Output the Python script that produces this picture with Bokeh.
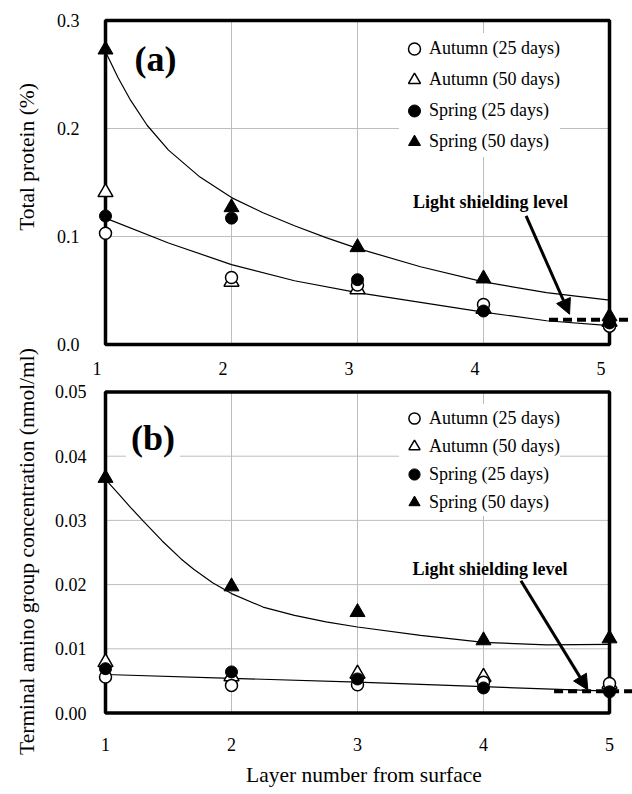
import math
from bokeh.plotting import figure
from bokeh.layouts import row, column
from bokeh.models import (Range1d, LinearAxis, FixedTicker, NumeralTickFormatter,
                          Legend, LegendItem, Label, Arrow, NormalHead)
from bokeh.embed import file_html
from bokeh.resources import INLINE

FONT = "Liberation Serif"

# ---------------- data ----------------
layers = [1, 2, 3, 4, 5]
x_ticks = [1, 2, 3, 4, 5]
series_labels = ["Autumn (25 days)", "Autumn (50 days)", "Spring (25 days)", "Spring (50 days)"]

# (a) Total protein (%)
a_y_ticks = [0.0, 0.1, 0.2, 0.3]
a_autumn25 = [0.103, 0.062, 0.055, 0.037, 0.017]
a_autumn50 = [0.141, 0.058, 0.051, 0.033, 0.021]
a_spring25 = [0.119, 0.117, 0.060, 0.031, 0.020]
a_spring50 = [0.273, 0.127, 0.090, 0.061, 0.026]
a_fit_hi_x = [1.0, 1.1, 1.2, 1.33, 1.5, 1.75, 2.0, 2.25, 2.5, 2.75, 3.0, 3.5, 4.0, 4.5, 5.0]
a_fit_hi_y = [0.271, 0.247, 0.226, 0.203, 0.180, 0.155, 0.136, 0.122, 0.110, 0.099, 0.089,
              0.072, 0.058, 0.048, 0.041]
a_fit_lo_x = [1.0, 1.5, 2.0, 2.5, 3.0, 3.5, 4.0, 4.5, 5.0]
a_fit_lo_y = [0.117, 0.094, 0.074, 0.059, 0.048, 0.039, 0.030, 0.022, 0.0175]
a_light_level = 0.023
a_light_from = 4.52

# (b) Terminal amino group concentration (nmol/ml)
b_y_ticks = [0.0, 0.01, 0.02, 0.03, 0.04, 0.05]
b_autumn25 = [0.0056, 0.0043, 0.0044, 0.0048, 0.0046]
b_autumn50 = [0.0079, 0.0057, 0.0061, 0.0056, 0.0045]
b_spring25 = [0.0069, 0.0064, 0.0053, 0.0039, 0.0033]
b_spring50 = [0.0366, 0.0197, 0.0157, 0.0113, 0.0116]
b_fit_hi_x = [1.0, 1.1, 1.2, 1.3, 1.45, 1.6, 1.7, 1.85, 2.0, 2.25, 2.5, 2.75, 3.0,
              3.5, 4.0, 4.5, 5.0]
b_fit_hi_y = [0.0364, 0.0342, 0.0320, 0.0299, 0.0268, 0.0240, 0.0224, 0.0203, 0.0186,
              0.0165, 0.0152, 0.0142, 0.0134, 0.0121, 0.0110, 0.0106, 0.0107]
b_fit_lo_x = [1.0, 2.0, 3.0, 4.0, 5.0]
b_fit_lo_y = [0.0060, 0.0054, 0.0048, 0.0041, 0.0034]
b_light_level = 0.0034
b_light_from = 4.56

# ---------------- layout constants ----------------
X0, X1 = 0.9206, 5.1825
GRID = "#bdbdbd"
MAIN_W = 584
STRIP_W = 48


def panel(height, b_top, b_bottom, y_start, y_end, y_ticks, y_fmt, y_standoff,
          a25, a50, s25, s50, fits, light_level, light_from, arrow, note_xy,
          tag, tag_xy, leg_loc, leg_gh, x_shift, x_standoff, x_title):
    p = figure(width=MAIN_W, height=height, x_range=Range1d(X0, X1),
               y_range=Range1d(y_start, y_end), output_backend="svg",
               toolbar_location=None, min_border_left=47, min_border_right=0,
               min_border_top=b_top, min_border_bottom=b_bottom,
               x_axis_location=None)
    p.outline_line_color = None
    p.grid.visible = False

    ya = p.yaxis[0]
    ya.ticker = FixedTicker(ticks=y_ticks)
    ya.formatter = NumeralTickFormatter(format=y_fmt)
    ya.axis_line_color = None
    ya.major_tick_line_color = None
    ya.minor_tick_line_color = None
    ya.major_label_standoff = y_standoff
    ya.major_label_text_font = FONT
    ya.major_label_text_font_size = "18px"
    ya.major_label_text_color = "black"

    p.extra_x_ranges = {"lab": Range1d(X0 + x_shift, X1 + x_shift)}
    xa = LinearAxis(x_range_name="lab", ticker=FixedTicker(ticks=x_ticks))
    xa.axis_line_color = None
    xa.major_tick_line_color = None
    xa.minor_tick_line_color = None
    xa.major_label_standoff = x_standoff
    xa.major_label_text_font = FONT
    xa.major_label_text_font_size = "18px"
    xa.major_label_text_color = "black"
    if x_title:
        xa.axis_label = x_title
        xa.axis_label_text_font = FONT
        xa.axis_label_text_font_size = "21.5px"
        xa.axis_label_text_font_style = "normal"
        xa.axis_label_text_color = "black"
        xa.axis_label_standoff = 9
    p.add_layout(xa, "below")

    # grid lines inside the frame only
    gx = x_ticks[1:-1]
    p.segment(x0=gx, y0=[y_ticks[0]] * len(gx), x1=gx, y1=[y_ticks[-1]] * len(gx),
              line_color=GRID, line_width=1)
    gy = y_ticks[1:-1]
    p.segment(x0=[x_ticks[0]] * len(gy), y0=gy, x1=[x_ticks[-1]] * len(gy), y1=gy,
              line_color=GRID, line_width=1)
    # frame
    p.quad(left=[x_ticks[0]], right=[x_ticks[-1]], bottom=[y_ticks[0]], top=[y_ticks[-1]],
           fill_color=None, line_color="black", line_width=3.5)

    for fx, fy in fits:
        p.line(fx, fy, line_color="black", line_width=1.2)

    r_a50 = p.scatter(layers, a50, marker="triangle", size=15, fill_color="white",
                      line_color="black", line_width=1.5)
    r_a25 = p.scatter(layers, a25, marker="circle", size=12, fill_color="white",
                      line_color="black", line_width=1.5)
    r_s25 = p.scatter(layers, s25, marker="circle", size=12, fill_color="black",
                      line_color="black", line_width=1)
    r_s50 = p.scatter(layers, s50, marker="triangle", size=15, fill_color="black",
                      line_color="black", line_width=1)

    # light shielding level
    p.segment(x0=[light_from], y0=[light_level], x1=[X1], y1=[light_level],
              line_color="black", line_width=4, line_dash="9 5")
    p.add_layout(Arrow(end=NormalHead(size=15, fill_color="black", line_color="black",
                                      line_width=1),
                       x_start=arrow[0], y_start=arrow[1], x_end=arrow[2], y_end=arrow[3],
                       line_width=3, line_color="black"))
    p.add_layout(Label(x=note_xy[0], y=note_xy[1], text="Light shielding level",
                       text_font=FONT, text_font_size="18px", text_font_style="bold",
                       text_align="center", text_baseline="middle", text_color="black"))

    leg = Legend(items=[LegendItem(label=series_labels[0], renderers=[r_a25]),
                        LegendItem(label=series_labels[1], renderers=[r_a50]),
                        LegendItem(label=series_labels[2], renderers=[r_s25]),
                        LegendItem(label=series_labels[3], renderers=[r_s50])],
                 location=leg_loc, margin=0, padding=4, spacing=0,
                 glyph_width=30, glyph_height=leg_gh, label_height=20, label_standoff=0,
                 label_text_font=FONT, label_text_font_size="18px",
                 label_text_color="black", label_text_baseline="middle",
                 border_line_color=None, background_fill_color="white",
                 background_fill_alpha=1.0)
    p.add_layout(leg)

    p.add_layout(Label(x=tag_xy[0], y=tag_xy[1], text=tag, text_font=FONT,
                       text_font_size="36px", text_font_style="bold",
                       text_align="left", text_baseline="middle", text_color="black",
                       background_fill_color="white", padding=5))
    return p


pa = panel(380, 17, 33, -0.00278, 0.30278, a_y_ticks, "0.0", 10,
           a_autumn25, a_autumn50, a_spring25, a_spring50,
           [(a_fit_hi_x, a_fit_hi_y), (a_fit_lo_x, a_fit_lo_y)],
           a_light_level, a_light_from, (4.338, 0.119, 4.683, 0.028), (4.056, 0.132),
           "(a)", (1.19, 0.264), (304, 190), 31, 0.067, 8, None)

pb = panel(412, 8, 76, -0.000545, 0.050545, b_y_ticks, "0.00", 3,
           b_autumn25, b_autumn50, b_spring25, b_spring50,
           [(b_fit_hi_x, b_fit_hi_y), (b_fit_lo_x, b_fit_lo_y)],
           b_light_level, b_light_from, (4.297, 0.0206, 4.828, 0.0036), (4.052, 0.0225),
           "(b)", (1.162, 0.0429), (304, 200), 28, 0.0, 15, "Layer number from surface")

# strip holding the two y-axis titles
STRIP_H = 792
s = figure(width=STRIP_W, height=STRIP_H, x_range=Range1d(0, STRIP_W),
           y_range=Range1d(0, STRIP_H), output_backend="svg", toolbar_location=None,
           min_border=0, x_axis_location=None, y_axis_location=None)
s.outline_line_color = None
s.grid.visible = False
s.add_layout(Label(x=26, y=STRIP_H - 156.5, text="Total protein (%)", angle=math.pi / 2,
                   text_font=FONT, text_font_size="21.5px", text_align="center",
                   text_baseline="middle", text_color="black"))
s.add_layout(Label(x=26, y=STRIP_H - 551, text="Terminal amino group concentration (nmol/ml)",
                   angle=math.pi / 2, text_font=FONT, text_font_size="21.5px",
                   text_align="center", text_baseline="middle", text_color="black"))

layout = row(s, column(pa, pb))
open("out.html", "w").write(file_html(layout, INLINE))
